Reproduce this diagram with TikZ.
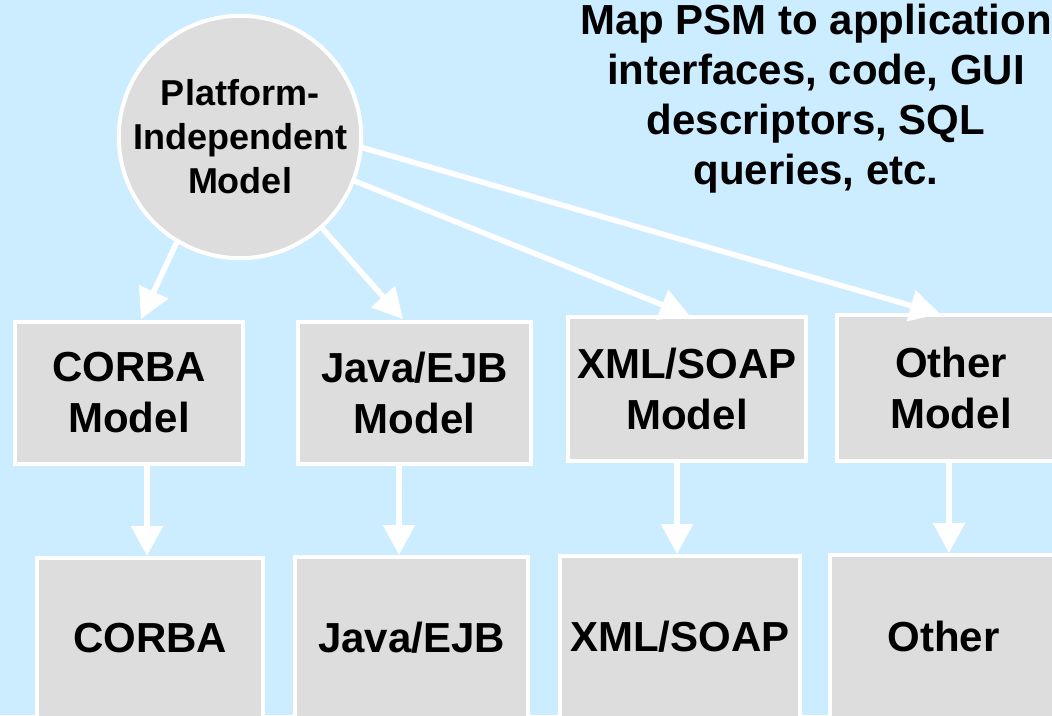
\documentclass[tikz,border=0pt]{standalone}
\usepackage{fontspec}
\setmainfont{Liberation Sans}
\usetikzlibrary{arrows.meta}
\definecolor{bg}{RGB}{204,236,255}
\definecolor{boxgray}{RGB}{221,221,221}
\begin{document}
\begin{tikzpicture}[x=1pt,y=-1pt,
  box/.style={draw=white, line width=4pt, fill=boxgray, inner sep=0pt, align=center,
    font=\fontsize{42}{51}\selectfont\bfseries},
  pimnode/.style={circle, draw=white, line width=4pt, fill=boxgray, minimum size=236pt,
    inner sep=0pt, align=center, font=\fontsize{36}{44}\selectfont\bfseries},
  arr/.style={draw=white, line width=5.5pt, -{Triangle[width=31pt,length=30pt]}},
  note/.style={align=center, font=\fontsize{42}{50}\selectfont\bfseries, inner sep=0pt}]
\useasboundingbox (0,0) rectangle (1052,715);
\clip (0,0) rectangle (1052,715);
\fill[bg] (0,0) rectangle (1052,715);

% top row (models)
\node[box, minimum width=228pt, minimum height=142pt] (cm) at (129,393) {CORBA\\Model};
\node[box, minimum width=233pt, minimum height=142pt] (jm) at (414.5,393) {Java/EJB\\Model};
\node[box, minimum width=238pt, minimum height=144pt] (xm) at (687,389) {XML/SOAP\\Model};
\node[box, minimum width=228pt, minimum height=146pt] (om) at (951,388) {Other\\Model};

% bottom row
\node[box, minimum width=226pt, minimum height=160pt] (c) at (150,638) {CORBA};
\node[box, minimum width=233pt, minimum height=161pt] (j) at (411.5,637.5) {Java/EJB};
\node[box, minimum width=240pt, minimum height=162pt] (x) at (680,637) {XML/SOAP};
\node[box, minimum width=227pt, minimum height=163pt] (o) at (943.5,636.5) {Other};

% platform independent model
\node[pimnode] (pim) at (240,137) {Platform-\\Independent\\Model};

% note (base anchor = baseline of last line)
\node[note, anchor=base] (note) at (816,184) {Map PSM to application\\interfaces, code, GUI\\descriptors, SQL\\queries, etc.};

% arrow end points
\coordinate (t1) at (141,319);
\coordinate (t2) at (403,319);
\coordinate (t3) at (690,316);
\coordinate (t4) at (940,314);
\coordinate (v1) at (147,0);
\coordinate (v2) at (399,0);
\coordinate (v3) at (677,0);
\coordinate (v4) at (949,0);

\draw[arr] (pim.239) -- (t1);
\draw[arr] (pim.312) -- (t2);
\draw[arr] (pim.339) -- (t3);
\draw[arr] (pim.355) -- (t4);

\draw[arr] (cm.south -| v1) -- (c.north -| v1);
\draw[arr] (jm.south -| v2) -- (j.north -| v2);
\draw[arr] (xm.south -| v3) -- (x.north -| v3);
\draw[arr] (om.south -| v4) -- (o.north -| v4);
\end{tikzpicture}
\end{document}
